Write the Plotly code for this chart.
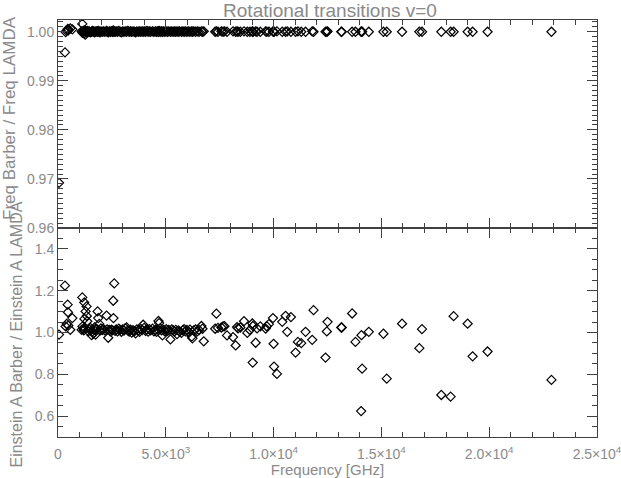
import plotly.graph_objects as go
from plotly.subplots import make_subplots

# Frequency of each transition [GHz]
freq = [46, 324, 355, 401, 448, 460, 478, 571, 664,
        1096, 1127, 1135, 1173, 1200, 1219, 1225, 1265, 1281, 1327, 1335, 1358, 1404,
        1450, 1500, 1559, 1600, 1640, 1667, 1700, 1744, 1780, 1836, 1867, 1913, 1944,
        1990, 2050, 2110, 2176, 2253, 2280, 2330, 2380, 2430, 2480, 2530, 2562, 2570,
        2608, 2650, 2700, 2760, 2820, 2880, 2940, 3000, 3060, 3120, 3179, 3240, 3300,
        3360, 3420, 3480, 3540, 3600, 3660, 3720, 3780, 3840, 3900, 3950, 4000, 4060,
        4120, 4180, 4240, 4300, 4383, 4450, 4520, 4569, 4620, 4661, 4691, 4740, 4800,
        4846, 4900, 4960, 5020, 5080, 5140, 5216, 5280, 5340, 5400, 5460, 5520, 5580,
        5640, 5725, 5790, 5850, 5910, 5980, 6050, 6120, 6200, 6235, 6300, 6380, 6460,
        6540, 6652, 6700, 6760,
        7290, 7346, 7420, 7578, 7655, 7720, 7840, 8118, 8241, 8303, 8349, 8457, 8628,
        8782, 8900, 9014, 9030, 9044, 9167, 9229, 9384, 9630, 9680, 9784, 9970, 10000,
        10020, 10155, 10402, 10556, 10633, 10803, 11019, 11127, 11282, 11482, 11791,
        11853, 12408, 12470, 12501, 13140, 13160, 13643, 13797, 14060, 14075, 14106,
        14415, 15094, 15248, 15958, 16761, 16884, 17779, 18211, 18350, 19000, 19231,
        19924, 22888]

# Freq Barber / Freq LAMDA
ratio_freq = [0.9692, 0.9958, 0.99995, 1.0002, 1.0004, 1.0006, 1.0003, 1.0007, 1.0005,
              1.0001, 1.0016, 0.9998, 1.0002, 1.0000, 0.9997, 1.0003, 0.9994, 1.0001, 1.0000, 0.9999, 1.0002, 1.0000,
              1.0001, 0.9999, 1.0000, 1.0002, 1.0000, 1.0001, 0.9999, 1.0000, 1.0001, 1.0000, 1.0002, 1.0000, 0.9999,
              1.0001, 1.0000, 1.0001, 1.0000, 1.0002, 1.0000, 0.9999, 1.0001, 1.0000, 1.0001, 1.0000, 1.0003, 1.0000,
              1.0001, 1.0000, 1.0001, 1.0000, 1.0002, 1.0000, 0.9999, 1.0001, 1.0000, 1.0001, 1.0000, 1.0002, 1.0000,
              1.0001, 1.0000, 1.0001, 1.0000, 0.9999, 1.0001, 1.0000, 1.0001, 1.0000, 1.0001, 1.0000, 1.0001, 1.0000,
              1.0002, 1.0000, 1.0001, 1.0000, 1.0001, 1.0000, 1.0001, 1.0000, 1.0001, 1.0000, 1.0002, 1.0000, 1.0001,
              1.0000, 1.0001, 1.0000, 1.0001, 1.0000, 1.0001, 1.0000, 1.0001, 1.0000, 1.0001, 1.0000, 1.0001, 1.0000,
              1.0001, 1.0000, 1.0001, 1.0000, 1.0001, 1.0000, 1.0001, 1.0000, 1.0001, 1.0000, 1.0001, 1.0000, 1.0001,
              1.0000, 1.0001, 1.0000, 1.0001,
              1.0000, 1.0001, 1.0000, 1.0001, 1.0000, 1.0001, 1.0000, 1.0001, 1.0000, 1.0001, 1.0000, 1.0000, 1.0001,
              1.0000, 1.0000, 1.0001, 1.0000, 1.0000, 1.0001, 1.0000, 1.0000, 1.0001, 1.0000, 1.0000, 1.0001, 1.0000,
              1.0000, 1.0001, 1.0000, 1.0000, 1.0001, 1.0000, 1.0000, 1.0001, 1.0000, 1.0000, 1.0001,
              1.0000, 1.0000, 1.0000, 1.0001, 1.0000, 1.0000, 1.0000, 1.0000, 1.0000, 1.0001, 1.0000,
              1.0000, 1.0000, 1.0000, 1.0000, 1.0000, 1.0000, 1.0000, 1.0000, 1.0000, 1.0000, 1.0000,
              1.0000, 1.0000]

# Einstein A Barber / Einstein A LAMDA
ratio_A = [0.990, 1.224, 1.029, 1.041, 1.133, 1.097, 1.033, 1.013, 1.069,
           1.013, 1.168, 1.029, 1.018, 1.010, 1.144, 1.065, 1.020, 1.101, 1.125, 1.079, 1.054, 1.006,
           1.015, 1.022, 0.987, 1.005, 0.995, 1.013, 1.025, 0.990, 1.018, 1.101, 1.069, 1.041, 1.009,
           1.020, 1.012, 1.016, 1.010, 1.081, 1.015, 0.975, 1.012, 1.006, 1.014, 1.010, 1.152, 1.069,
           1.235, 1.008, 1.015, 1.005, 1.018, 1.012, 1.003, 1.015, 1.009, 1.020, 1.025, 1.010, 1.004,
           1.014, 1.000, 1.011, 1.006, 0.996, 1.015, 1.010, 1.003, 1.017, 1.012, 1.037, 1.022, 1.008,
           1.015, 1.004, 1.016, 1.010, 1.018, 1.006, 1.012, 1.003, 1.015, 1.055, 1.045, 1.020, 1.010,
           0.986, 1.012, 1.005, 1.016, 1.008, 1.012, 0.967, 1.015, 1.010, 1.004, 1.013, 0.992, 1.010,
           1.005, 0.998, 1.011, 1.016, 1.006, 1.012, 1.003, 1.014, 0.980, 0.972, 1.010, 1.015, 1.006,
           1.012, 1.031, 1.018, 0.958,
           1.018, 1.090, 1.022, 1.024, 1.029, 1.030, 0.986, 0.978, 0.938, 1.026, 1.020, 1.024, 1.054,
           0.998, 1.012, 1.043, 0.856, 1.031, 0.951, 1.020, 1.029, 1.019, 1.030, 1.040, 1.069, 0.946,
           0.837, 0.802, 1.051, 1.080, 1.003, 1.074, 0.904, 0.955, 0.949, 1.003, 0.965,
           1.107, 0.880, 1.005, 1.051, 1.024, 1.024, 1.091, 0.955, 0.624, 0.987, 0.827,
           1.003, 0.994, 0.779, 1.042, 0.925, 1.016, 0.701, 0.693, 1.078, 1.042, 0.886,
           0.909, 0.773]

x_tickvals = [0, 5000, 10000, 15000, 20000, 25000]
x_ticktext = ["0", "5.0×10<sup>3</sup>", "1.0×10<sup>4</sup>", "1.5×10<sup>4</sup>",
              "2.0×10<sup>4</sup>", "2.5×10<sup>4</sup>"]
y1_tickvals = [0.96, 0.97, 0.98, 0.99, 1.00]
y1_ticktext = ["0.96", "0.97", "0.98", "0.99", "1.00"]
y2_tickvals = [0.6, 0.8, 1.0, 1.2, 1.4]
y2_ticktext = ["0.6", "0.8", "1.0", "1.2", "1.4"]

FONT = "Liberation Sans"
TXT = "#8a8a8a"
AX = "#404040"

fig = make_subplots(rows=2, cols=1, shared_xaxes=True, vertical_spacing=0)

marker = dict(symbol="diamond-open", size=7, color="black", line=dict(width=1.2, color="black"))
fig.add_trace(go.Scatter(x=freq, y=ratio_freq, mode="markers", marker=marker,
                         showlegend=False, hoverinfo="x+y"), row=1, col=1)
fig.add_trace(go.Scatter(x=freq, y=ratio_A, mode="markers", marker=marker,
                         showlegend=False, hoverinfo="x+y"), row=2, col=1)

split = 209 / 417

common = dict(showline=True, linecolor=AX, linewidth=1, mirror="allticks",
              ticks="inside", ticklen=10, tickcolor=AX, tickwidth=1,
              showgrid=False, zeroline=False, automargin=False,
              tickfont=dict(family=FONT, size=14, color=TXT))

fig.update_xaxes(range=[0, 25000.5], tickvals=x_tickvals, ticktext=x_ticktext,
                 minor=dict(dtick=1000, tick0=0, ticks="inside", ticklen=5, tickcolor=AX, showgrid=False),
                 ticklabelstandoff=4, ticklabeloverflow="allow", **common)
fig.update_xaxes(showticklabels=False, row=1, col=1)
fig.update_xaxes(title=dict(text="Frequency [GHz]", font=dict(family=FONT, size=15, color=TXT), standoff=3),
                 row=2, col=1)

fig.update_yaxes(range=[0.96, 1.0024], tickvals=y1_tickvals, ticktext=y1_ticktext,
                 minor=dict(dtick=0.001, tick0=0.96, ticks="inside", ticklen=5, tickcolor=AX, showgrid=False),
                 domain=[split, 1], row=1, col=1, **common)
fig.update_yaxes(range=[0.5, 1.5], tickvals=y2_tickvals, ticktext=y2_ticktext,
                 minor=dict(dtick=0.05, tick0=0.5, ticks="inside", ticklen=5, tickcolor=AX, showgrid=False),
                 domain=[0, split], row=2, col=1, **common)

fig.add_annotation(text="Freq Barber / Freq LAMDA", textangle=-90, xref="paper", yref="paper",
                   x=-60/539, y=1 - 98.5/417, xanchor="left", yanchor="middle", showarrow=False,
                   font=dict(family=FONT, size=17, color=TXT))
fig.add_annotation(text="Einstein A Barber / Einstein A LAMDA", textangle=-90, xref="paper", yref="paper",
                   x=-53/539, y=(437 - 335) / 417, xanchor="left", yanchor="middle", showarrow=False,
                   font=dict(family=FONT, size=16, color=TXT))

fig.update_layout(
    width=621, height=478,
    margin=dict(l=58, r=24, t=20, b=41, autoexpand=False),
    paper_bgcolor="white", plot_bgcolor="white",
    title=dict(text="Rotational transitions v=0", x=330/621, xanchor="center",
               y=1 - 10.5/478, yanchor="middle",
               font=dict(family=FONT, size=19, color=TXT)),
)

fig.write_html("out.html", config={"displayModeBar": False},
               post_script="document.body.style.margin='0';document.body.style.padding='0';")
